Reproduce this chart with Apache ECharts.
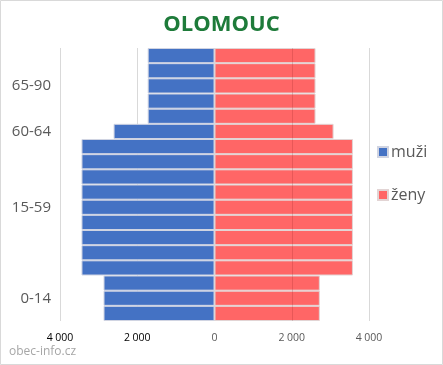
<!DOCTYPE html>
<html>
<head>
<meta charset="utf-8">
<script src="https://cdn.jsdelivr.net/npm/echarts@6/dist/echarts.min.js"></script>
<style>html,body{margin:0;padding:0;background:#fff}#c{width:443px;height:365px}</style>
</head>
<body>
<div id="c"></div>
<script>
const categories = ['0-4','5-9','10-14','15-19','20-24','25-29','30-34','35-39','40-44','45-49','50-54','55-59','60-64','65-69','70-74','75-79','80-84','85-90'];
const rowLabels = ['','0-14','','','','','','15-59','','','','','60-64','','','65-90','',''];
const muzi = [2873,2873,2873,3444,3444,3444,3444,3444,3444,3444,3444,3444,2613,1730,1730,1730,1730,1730];
const zeny = [2727,2727,2727,3584,3584,3584,3584,3584,3584,3584,3584,3584,3083,2616,2616,2616,2616,2616];
const xTicks = [-4000,-2000,0,2000,4000];

const chart = echarts.init(document.getElementById('c'));
const fmt = v => { const a = Math.abs(v); return a >= 1000 ? Math.floor(a/1000) + ' ' + String(a%1000).padStart(3,'0') : String(a); };
chart.setOption({
  animation: false,
  title: { text: 'OLOMOUC', left: 'center', top: 9, textStyle: { fontFamily: 'Open Sans', fontSize: 22, fontWeight: 'bold', color: '#1E7B3A' } },
  legend: {
    orient: 'vertical', left: 372, top: 139, itemGap: 27, itemWidth: 10, itemHeight: 10, icon: 'rect',
    textStyle: { fontFamily: 'Open Sans', fontSize: 16, color: '#595959', padding: [0,0,0,-2] },
    data: ['muži','ženy']
  },
  grid: { left: 60, right: 74, top: 48, bottom: 44 },
  xAxis: {
    type: 'value', min: xTicks[0], max: xTicks[xTicks.length-1], interval: 2000,
    axisLine: { show: false }, axisTick: { show: false },
    splitLine: { lineStyle: { color: '#D9D9D9' } },
    axisLabel: { fontFamily: 'Open Sans', fontSize: 10.5, margin: 12, formatter: fmt,
      color: v => (v < 0 ? '#000000' : '#595959') }
  },
  yAxis: {
    type: 'category', data: categories,
    axisLine: { show: false }, axisTick: { show: false },
    axisLabel: { interval: 0, margin: 9, fontFamily: 'Open Sans', fontSize: 15, color: '#595959',
      formatter: (v, i) => rowLabels[i] }
  },
  graphic: [
    { type: 'rect', shape: { x: 0.5, y: 0.5, width: 442, height: 364 }, style: { fill: 'none', stroke: '#D9D9D9', lineWidth: 1 }, silent: true },
    { type: 'text', left: 9, top: 346, style: { text: 'obec-info.cz', fontFamily: 'Open Sans', fontSize: 12, fill: '#A6A6A6' } }
  ],
  series: [
    { name: 'muži', type: 'bar', stack: 'a', barCategoryGap: 0, data: muzi.map(v => -v),
      itemStyle: { color: '#4472C4', borderColor: '#D0D4E2', borderWidth: 1 } },
    { name: 'ženy', type: 'bar', stack: 'a', barCategoryGap: 0, data: zeny,
      itemStyle: { color: '#FF6666', borderColor: '#E2D4D4', borderWidth: 1 },
      markLine: { silent: true, symbol: 'none', label: { show: false },
        lineStyle: { color: 'rgba(90,0,0,0.14)', type: 'solid', width: 1 },
        data: [{ xAxis: 2000 }] } }
  ]
});
</script>
</body>
</html>
